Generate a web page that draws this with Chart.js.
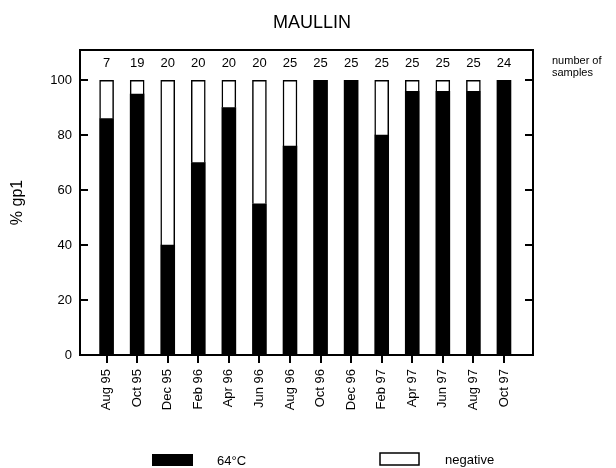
<!DOCTYPE html>
<html>
<head>
<meta charset="utf-8">
<title>MAULLIN</title>
<script src="https://cdn.jsdelivr.net/npm/chart.js@4.4.0/dist/chart.umd.min.js"></script>
<style>
  html, body { margin: 0; padding: 0; background: #fff; }
  #wrap { width: 616px; height: 468px; }
</style>
</head>
<body>
<div id="wrap"><canvas id="chart" width="616" height="468"></canvas></div>
<script>
// Sampling months (x categories)
const months = ['Aug 95', 'Oct 95', 'Dec 95', 'Feb 96', 'Apr 96', 'Jun 96', 'Aug 96',
  'Oct 96', 'Dec 96', 'Feb 97', 'Apr 97', 'Jun 97', 'Aug 97', 'Oct 97'];
// % of samples positive at 64°C and negative
const pct64 = [86, 95, 40, 70, 90, 55, 76, 100, 100, 80, 96, 96, 96, 100];
const pctNeg = [14, 5, 60, 30, 10, 45, 24, 0, 0, 20, 4, 4, 4, 0];
// number of samples per month
const samples = [7, 19, 20, 20, 20, 20, 25, 25, 25, 25, 25, 25, 25, 24];
const yTicks = [0, 20, 40, 60, 80, 100];

const FONT = "'Liberation Sans', Arial, Helvetica, sans-serif";
Chart.defaults.font.family = FONT;
Chart.defaults.color = '#000';

// Box round the plot area
const framePlugin = {
  id: 'frame',
  beforeDatasetsDraw(chart) {
    const { ctx, chartArea: a } = chart;
    ctx.save();
    ctx.strokeStyle = '#000';
    ctx.lineWidth = 2;
    ctx.strokeRect(a.left, a.top, a.right - a.left, a.bottom - a.top);
    ctx.restore();
  }
};

// Title, sample counts, side note and legend
const textPlugin = {
  id: 'texts',
  afterDraw(chart) {
    const { ctx } = chart;
    const xs = chart.scales.x, ys = chart.scales.y;
    ctx.save();
    ctx.fillStyle = '#000';

    ctx.font = `18px ${FONT}`;
    ctx.textAlign = 'center';
    ctx.textBaseline = 'middle';
    ctx.fillText('MAULLIN', 312, 23);

    ctx.font = `13px ${FONT}`;
    samples.forEach((n, i) => {
      ctx.fillText(String(n), xs.getPixelForValue(i), ys.getPixelForValue(106));
    });

    ctx.font = `11px ${FONT}`;
    ctx.textAlign = 'left';
    ctx.textBaseline = 'alphabetic';
    ctx.fillText('number of', 552, 64);
    ctx.fillText('samples', 552, 76);

    // legend
    const items = [
      { ds: chart.data.datasets[0], box: [152, 454, 41, 12], tx: 217 },
      { ds: chart.data.datasets[1], box: [380, 453, 39, 12], tx: 445 }
    ];
    ctx.font = `13px ${FONT}`;
    ctx.textBaseline = 'middle';
    items.forEach(it => {
      const [bx, by, bw, bh] = it.box;
      ctx.fillStyle = it.ds.backgroundColor;
      ctx.fillRect(bx, by, bw, bh);
      if (it.ds.borderWidth) {
        ctx.strokeStyle = it.ds.borderColor;
        ctx.lineWidth = 1.5;
        ctx.strokeRect(bx, by, bw, bh);
      }
      ctx.fillStyle = '#000';
      ctx.fillText(it.ds.label, it.tx, by + bh / 2 + 1);
    });
    ctx.restore();
  }
};

new Chart(document.getElementById('chart'), {
  type: 'bar',
  data: {
    datasets: [
      {
        label: '64°C',
        data: pct64.map((v, i) => ({ x: i, y: v })),
        backgroundColor: '#000',
        borderWidth: 0,
        barThickness: 14
      },
      {
        label: 'negative',
        data: pctNeg.map((v, i) => ({ x: i, y: v || null })),
        backgroundColor: '#fff',
        borderColor: '#000',
        borderWidth: 1.5,
        barThickness: 14
      }
    ]
  },
  options: {
    responsive: false,
    animation: false,
    layout: { padding: { top: 50, right: 83, left: 0, bottom: 0 } },
    plugins: { legend: { display: false }, tooltip: { enabled: false }, title: { display: false } },
    scales: {
      x: {
        type: 'linear',
        stacked: true,
        offset: false,
        min: -0.87,
        max: 13.95,
        afterBuildTicks: s => { s.ticks = months.map((_, i) => ({ value: i })); },
        afterFit: s => { s.height = 113; },
        ticks: {
          autoSkip: false,
          minRotation: 90,
          maxRotation: 90,
          padding: 6,
          font: { size: 13 },
          callback: v => months[v]
        },
        grid: { offset: false, drawOnChartArea: false, tickLength: 8, lineWidth: 2, color: '#000' },
        border: { color: '#000', width: 2 }
      },
      y: {
        stacked: true,
        min: 0,
        max: 111,
        afterBuildTicks: s => { s.ticks = yTicks.map(v => ({ value: v })); },
        afterFit: s => { s.width = 80; },
        ticks: { padding: 16, font: { size: 13 } },
        grid: { drawOnChartArea: false, tickLength: -8, lineWidth: 2, color: '#000' },
        border: { color: '#000', width: 2 },
        title: { display: true, text: '% gp1', font: { size: 16 }, padding: { top: 8, bottom: 0 } }
      },
      y2: {
        position: 'right',
        min: 0,
        max: 111,
        afterBuildTicks: s => { s.ticks = yTicks.map(v => ({ value: v })); },
        afterFit: s => { s.width = 0; },
        ticks: { display: false },
        grid: { drawOnChartArea: false, tickLength: -8, lineWidth: 2, color: '#000' },
        border: { color: '#000', width: 2 }
      }
    }
  },
  plugins: [framePlugin, textPlugin]
});
</script>
</body>
</html>
